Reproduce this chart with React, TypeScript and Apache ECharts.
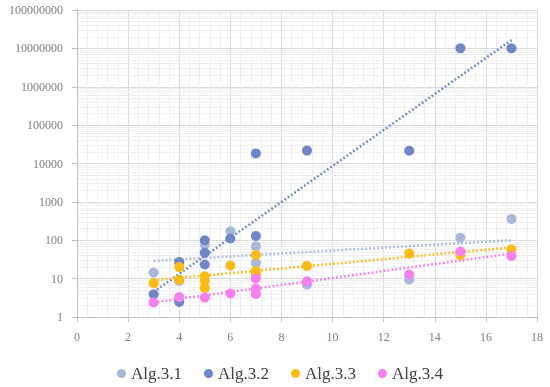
import React, { useEffect, useRef } from "react";
import * as echarts from "echarts";

const seriesNames = ["Alg.3.1", "Alg.3.2", "Alg.3.3", "Alg.3.4"];
const colors = ["#aab7dd", "#6f87c8", "#fbbb12", "#f77ff0"];

const alg1X = [3, 4, 4, 5, 6, 7, 7, 9, 13, 15, 17];
const alg1Y = [14.4, 27, 8.7, 76, 172, 70, 25.6, 7, 9.5, 117, 360];

const alg2X = [3, 4, 4, 5, 5, 5, 6, 7, 7, 9, 13, 15, 17];
const alg2Y = [3.9, 27, 2.46, 100, 47, 23.3, 111, 130, 18300, 21700, 21500, 10000000, 10000000];

const alg3X = [3, 4, 4, 5, 5, 5, 6, 7, 7, 7, 9, 13, 15, 17];
const alg3Y = [7.6, 20, 9.4, 11.5, 8.7, 5.7, 22, 41, 15.8, 13, 21.4, 45, 41, 58];

const alg4X = [3, 4, 5, 6, 7, 7, 7, 9, 13, 15, 17];
const alg4Y = [2.4, 3.3, 3.2, 4.1, 10, 5.5, 4, 8.5, 12.8, 51, 39];

// trendline endpoints (x = 3 and x = 17)
const trendX = [3, 17];
const trend1 = [29, 100];
const trend2 = [4.5, 16500000];
const trend3 = [9.1, 65];
const trend4 = [2.4, 45];

const xTicks = [0, 2, 4, 6, 8, 10, 12, 14, 16, 18];
const yTicks = [1, 10, 100, 1000, 10000, 100000, 1000000, 10000000, 100000000];

const FONT = "'Liberation Serif', 'Times New Roman', serif";

export default function App() {
  const ref = useRef<HTMLDivElement>(null);
  useEffect(() => {
    if (!ref.current) return;
    const chart = echarts.init(ref.current, undefined, { renderer: "svg" });
    const pts = [
      [alg1X, alg1Y],
      [alg2X, alg2Y],
      [alg3X, alg3Y],
      [alg4X, alg4Y],
    ];
    const trends = [trend1, trend2, trend3, trend4];

    const minorY: any[] = [];
    for (let k = 0; k < yTicks.length - 1; k++) {
      for (let m = 2; m <= 9; m++) minorY.push({ yAxis: m * yTicks[k] });
    }

    const series: any[] = [
      {
        type: "scatter",
        name: "__grid",
        data: [],
        silent: true,
        z: 0,
        markLine: {
          silent: true,
          z: 0,
          zlevel: 0,
          symbol: "none",
          animation: false,
          label: { show: false },
          lineStyle: { color: "#efefef", width: 1, type: "solid" },
          emphasis: { disabled: true },
          data: minorY,
        },
      },
    ];
    pts.forEach((p, i) => {
      series.push({
        type: "scatter",
        name: seriesNames[i],
        data: p[0].map((x, j) => [x, p[1][j]]),
        symbolSize: 10,
        itemStyle: { color: colors[i], opacity: 1 },
        z: 6 + i,
      });
    });
    trends.forEach((t, i) => {
      series.push({
        type: "line",
        name: "trend" + i,
        data: trendX.map((x, j) => [x, t[j]]),
        symbol: "none",
        silent: true,
        lineStyle: {
          color: colors[i],
          width: 2.5,
          type: [1.8, 2.2],
        },
        z: 5,
      });
    });

    const labelStyle = {
      fontFamily: FONT,
      fontSize: 12,
      color: "#7f7f7f",
      margin: 14,
    };

    chart.setOption({
      animation: false,
      textStyle: { fontFamily: FONT },
      grid: { left: 77, right: 13, top: 10, bottom: 70, containLabel: false },
      legend: {
        data: seriesNames,
        top: 360,
        left: 112,
        icon: "circle",
        itemWidth: 9,
        itemHeight: 9,
        itemGap: 22,
        textStyle: { fontFamily: FONT, fontSize: 17, color: "#404040" },
      },
      xAxis: {
        type: "value",
        min: xTicks[0],
        max: xTicks[xTicks.length - 1],
        interval: 2,
        axisLine: { show: true, lineStyle: { color: "#bfbfbf" } },
        axisTick: { show: true, length: 5, lineStyle: { color: "#bfbfbf" } },
        axisLabel: { ...labelStyle },
        splitLine: { show: true, lineStyle: { color: "#d9d9d9" } },
        minorTick: { show: false, splitNumber: 5 },
        minorSplitLine: { show: true, lineStyle: { color: "#efefef" } },
      },
      yAxis: {
        type: "log",
        logBase: 10,
        min: yTicks[0],
        max: yTicks[yTicks.length - 1],
        interval: 1,
        axisLine: { show: true, lineStyle: { color: "#bfbfbf" } },
        axisTick: { show: true, length: 5, lineStyle: { color: "#bfbfbf" } },
        axisLabel: {
          ...labelStyle,
          formatter: (v: number) => String(Math.round(v)),
        },
        splitLine: { show: true, lineStyle: { color: "#d9d9d9" } },
      },
      series,
    });
    return () => chart.dispose();
  }, []);
  return (
    <div
      ref={ref}
      style={{ position: "fixed", left: 0, top: 0, width: 550, height: 387 }}
    />
  );
}
